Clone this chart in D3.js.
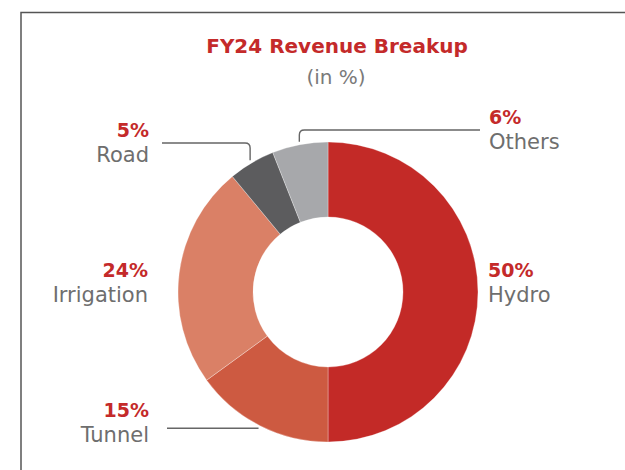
<!DOCTYPE html>
<html>
<head>
<meta charset="utf-8">
<script src="https://cdn.jsdelivr.net/npm/d3@7"></script>
<style>
  html,body{margin:0;padding:0;background:#fff;}
  svg{display:block;font-family:"DejaVu Sans",sans-serif;}
</style>
</head>
<body>
<div id="chart"></div>
<script>
const categories = ['Hydro','Tunnel','Irrigation','Road','Others'];
const values = [50, 15, 24, 5, 6];
const colors = ['#c32a27','#cd5a41','#da8066','#5c5c5e','#a7a8ab'];

const W=625, H=470;
const cx=328, cy=292, rOuter=150, rInner=75;
const red='#c42a2a', grey='#6e6e6e';

// label placement per category (anchor, x, y of the % line) and leader shape
const labelPos = {
  Hydro:      {anchor:'start', x:488, y:277},
  Tunnel:     {anchor:'end',   x:149, y:417, leader:{type:'flat', x:167}},
  Irrigation: {anchor:'end',   x:148, y:277},
  Road:       {anchor:'end',   x:149, y:137, leader:{type:'elbow', x:162, y:143}},
  Others:     {anchor:'start', x:489, y:124, leader:{type:'elbow', x:480, y:130}}
};

const svg = d3.select('#chart').append('svg').attr('width',W).attr('height',H);

// frame (top + left rule)
svg.append('path').attr('d',`M21,${H} V12.5 H${W}`)
  .attr('fill','none').attr('stroke','#555').attr('stroke-width',1.5);

svg.append('text').attr('x',337).attr('y',53).attr('text-anchor','middle')
  .attr('font-size',20).attr('font-weight',700).attr('fill',red)
  .text('FY24 Revenue Breakup');
svg.append('text').attr('x',336).attr('y',84).attr('text-anchor','middle')
  .attr('font-size',20).attr('fill','#7a7a7a').text('(in %)');

const data = categories.map((c,i)=>({name:c, value:values[i], color:colors[i]}));
const pie = d3.pie().sort(null).value(d=>d.value);
const arc = d3.arc().innerRadius(rInner).outerRadius(rOuter);
const arcs = pie(data);

const g = svg.append('g').attr('transform',`translate(${cx},${cy})`);
g.selectAll('path.slice').data(arcs).join('path')
  .attr('class','slice')
  .attr('d',arc)
  .attr('fill',d=>d.data.color)
  .attr('stroke','#fff').attr('stroke-opacity',.5).attr('stroke-width',.6);

// leaders + labels
const rLead = 153, cr = 5;
arcs.forEach(a=>{
  const p = labelPos[a.data.name];
  const mid = (a.startAngle+a.endAngle)/2;
  const ex = cx + rLead*Math.sin(mid), ey = cy - rLead*Math.cos(mid);
  if(p.leader){
    let d;
    if(p.leader.type==='flat'){
      d = `M${p.leader.x},${ey} H${ex}`;
    } else {
      const dir = ex > p.leader.x ? 1 : -1;
      d = `M${p.leader.x},${p.leader.y} H${ex - dir*cr} Q${ex},${p.leader.y} ${ex},${p.leader.y+cr} V${ey}`;
    }
    svg.append('path').attr('d',d).attr('fill','none')
      .attr('stroke','#666').attr('stroke-width',1.4);
  }
  svg.append('text').attr('x',p.x).attr('y',p.y).attr('text-anchor',p.anchor)
    .attr('font-size',19).attr('font-weight',700).attr('fill',red)
    .text(`${a.data.value}%`);
  svg.append('text').attr('x',p.x).attr('y',p.y+25).attr('text-anchor',p.anchor)
    .attr('font-size',21).attr('fill',grey)
    .text(a.data.name);
});
</script>
</body>
</html>
